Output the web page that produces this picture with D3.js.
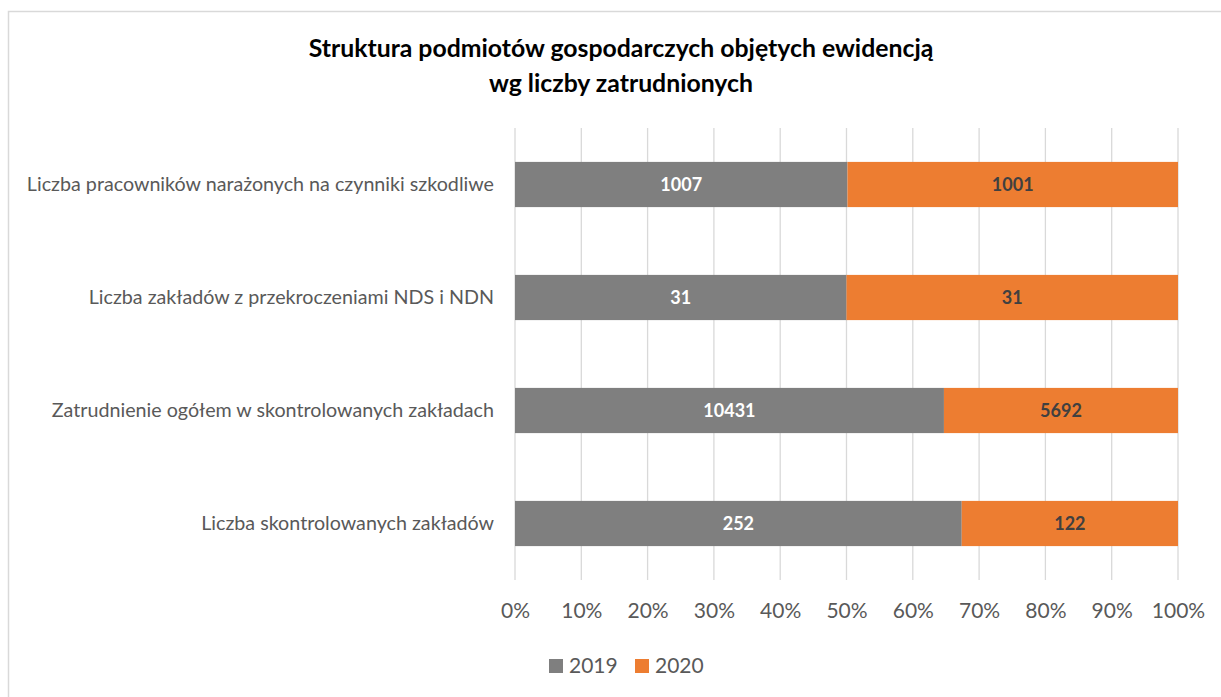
<!DOCTYPE html>
<html><head><meta charset="utf-8">
<script src="https://cdn.jsdelivr.net/npm/d3@7"></script>
<style>body{margin:0;background:#fff}svg{display:block}</style>
</head><body>
<svg id="c" width="1221" height="697"></svg>
<script>
const categories = [
  "Liczba pracowników narażonych na czynniki szkodliwe",
  "Liczba zakładów z przekroczeniami NDS i NDN",
  "Zatrudnienie ogółem w skontrolowanych zakładach",
  "Liczba skontrolowanych zakładów"
];
const series = ["2019", "2020"];
const values2019 = [1007, 31, 10431, 252];
const values2020 = [1001, 31, 5692, 122];
const tickValues = [0,0.1,0.2,0.3,0.4,0.5,0.6,0.7,0.8,0.9,1];
const colors = ["#7f7f7f", "#ed7d31"];
const labelColors = ["#ffffff", "#404040"];
const FONT = "Lato, 'Open Sans', sans-serif";

(function(){
const svg = d3.select("#c");
svg.append("rect").attr("x",8.5).attr("y",11.5).attr("width",1230).attr("height",700)
  .attr("fill","#fff").attr("stroke","#d9d9d9").attr("stroke-width",1.5);

const title = svg.append("text").attr("text-anchor","middle").attr("font-family",FONT)
  .attr("font-weight","bold").attr("font-size",24.8).attr("fill","#000");
title.append("tspan").attr("x",621).attr("y",57).text("Struktura podmiotów gospodarczych objętych ewidencją");
title.append("tspan").attr("x",621).attr("y",92).text("wg liczby zatrudnionych");

const pl = 515, pr = 1178, pt = 128, pb = 580;
const x = d3.scaleLinear().domain([0,1]).range([pl,pr]);
const y = d3.scaleBand().domain(categories).range([pt,pb]).paddingInner(0.6).paddingOuter(0.3);

svg.append("g").selectAll("line").data(tickValues).join("line")
  .attr("x1",d=>x(d)).attr("x2",d=>x(d)).attr("y1",pt).attr("y2",pb)
  .attr("stroke","#d9d9d9").attr("stroke-width",1.3);

const data = categories.map((c,i)=>{
  const t = values2019[i]+values2020[i];
  return {c, v:[values2019[i], values2020[i]], p:[values2019[i]/t, values2020[i]/t]};
});

const g = svg.append("g");
data.forEach(d=>{
  let acc = 0;
  d.p.forEach((p,k)=>{
    g.append("rect").attr("x",x(acc)).attr("y",y(d.c)).attr("width",x(acc+p)-x(acc))
      .attr("height",y.bandwidth()).attr("fill",colors[k]);
    g.append("text").attr("x",(x(acc)+x(acc+p))/2).attr("y",y(d.c)+y.bandwidth()/2)
      .attr("dy","0.35em").attr("text-anchor","middle").attr("font-family",FONT)
      .attr("font-weight","bold").attr("font-size",18).attr("fill",labelColors[k]).text(d.v[k]);
    acc += p;
  });
});

svg.append("g").selectAll("text").data(categories).join("text")
  .attr("x",494).attr("y",d=>y(d)+y.bandwidth()/2).attr("dy","0.35em")
  .attr("text-anchor","end").attr("font-family",FONT).attr("font-size",19.7)
  .attr("fill","#595959").text(d=>d);

const xa = svg.append("g").attr("transform",`translate(0,${pb})`)
  .call(d3.axisBottom(x).tickValues(tickValues).tickFormat(d3.format(".0%")).tickSize(0).tickPadding(23));
xa.select(".domain").remove();
xa.selectAll("text").attr("font-family",FONT).attr("font-size",21).attr("fill","#595959");

const lg = svg.append("g");
const lx = [549, 635];
series.forEach((s,k)=>{
  lg.append("rect").attr("x",lx[k]).attr("y",659).attr("width",14).attr("height",14).attr("fill",colors[k]);
  lg.append("text").attr("x",lx[k]+20).attr("y",665.5).attr("dy","0.35em").attr("font-family",FONT)
    .attr("font-size",21).attr("fill","#595959").text(s);
});
})();
</script>
</body></html>
